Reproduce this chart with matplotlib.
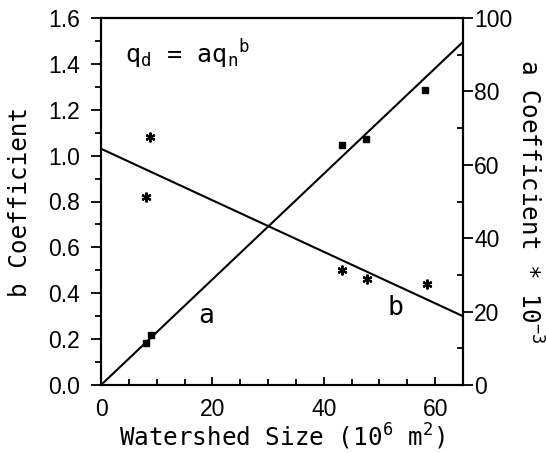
import matplotlib.pyplot as plt
from matplotlib.ticker import MultipleLocator

plt.rcParams['font.family'] = ['DejaVu Sans Mono', 'DejaVu Sans']
plt.rcParams['font.size'] = 17.5
plt.rcParams['mathtext.default'] = 'regular'

size_b = [8.0, 8.8, 43.3, 47.7, 58.5]        # watershed size, 10^6 m^2
b_coef = [0.82, 1.08, 0.50, 0.46, 0.44]
size_a = [8.0, 8.9, 43.3, 47.5, 58.1]
a_coef = [11.5, 13.5, 65.5, 67.0, 80.5]      # a coefficient * 10^-3

# Fitted lines (end points)
fit_x = [0, 65]
b_fit = [1.03, 0.30]
a_fit = [0.0, 93.5]

fig, ax = plt.subplots(figsize=(5.46, 4.53), dpi=100)
fig.subplots_adjust(left=101/546, right=463/546, top=1-18/453, bottom=1-385/453)
ax2 = ax.twinx()

ax.plot(fit_x, b_fit, color='black', lw=1.5, solid_capstyle='butt')
ax.plot(size_b, b_coef, linestyle='none', marker=(6, 2, 0), ms=7, mew=1.6, color='black')
ax2.plot(fit_x, a_fit, color='black', lw=1.5, solid_capstyle='butt')
ax2.plot(size_a, a_coef, linestyle='none', marker='s', ms=4.5, color='black')

ax.set_xlim(0, 65)
ax.set_ylim(0, 1.6)
ax2.set_ylim(0, 100)

ax.xaxis.set_major_locator(MultipleLocator(20))
ax.xaxis.set_minor_locator(MultipleLocator(5))
ax.yaxis.set_major_locator(MultipleLocator(0.2))
ax.yaxis.set_minor_locator(MultipleLocator(0.1))
ax2.yaxis.set_major_locator(MultipleLocator(20))
ax2.yaxis.set_minor_locator(MultipleLocator(10))
ax.yaxis.set_major_formatter(plt.FormatStrFormatter('%.1f'))

ax.tick_params(axis='x', which='both', direction='in', top=False, width=1.3)
ax.tick_params(axis='x', which='major', length=6, pad=9)
ax.tick_params(axis='x', which='minor', length=4)
ax.tick_params(axis='y', which='both', direction='out', width=1.3)
ax.tick_params(axis='y', which='major', length=7, pad=8)
ax.tick_params(axis='y', which='minor', length=4)
ax2.tick_params(axis='y', which='major', direction='out', length=7, width=1.3, pad=1)
ax2.tick_params(axis='y', which='minor', direction='in', length=4, width=1.3)

tick_font = {'family': ['Liberation Sans', 'DejaVu Sans'], 'size': 16.5}
for lab in ax.get_xticklabels() + ax.get_yticklabels() + ax2.get_yticklabels():
    lab.set_fontfamily(tick_font['family'])
    lab.set_fontsize(tick_font['size'])

for a in (ax, ax2):
    for sp in a.spines.values():
        sp.set_linewidth(1.5)

ax.set_xlabel('Watershed Size (10$^6$ m$^2$)', labelpad=1)
ax.set_ylabel('b Coefficient', labelpad=12)
ax2.set_ylabel('a Coefficient * 10$^{-3}$', rotation=270, labelpad=22)

ax.text(4.3, 1.44, 'q$_d$ = aq$_n$$^b$', fontsize=18, va='center')
ax.text(17.5, 0.30, 'a', fontsize=19, va='center')
ax.text(51.5, 0.335, 'b', fontsize=19, va='center')

fig.savefig('out.png', dpi=100)
